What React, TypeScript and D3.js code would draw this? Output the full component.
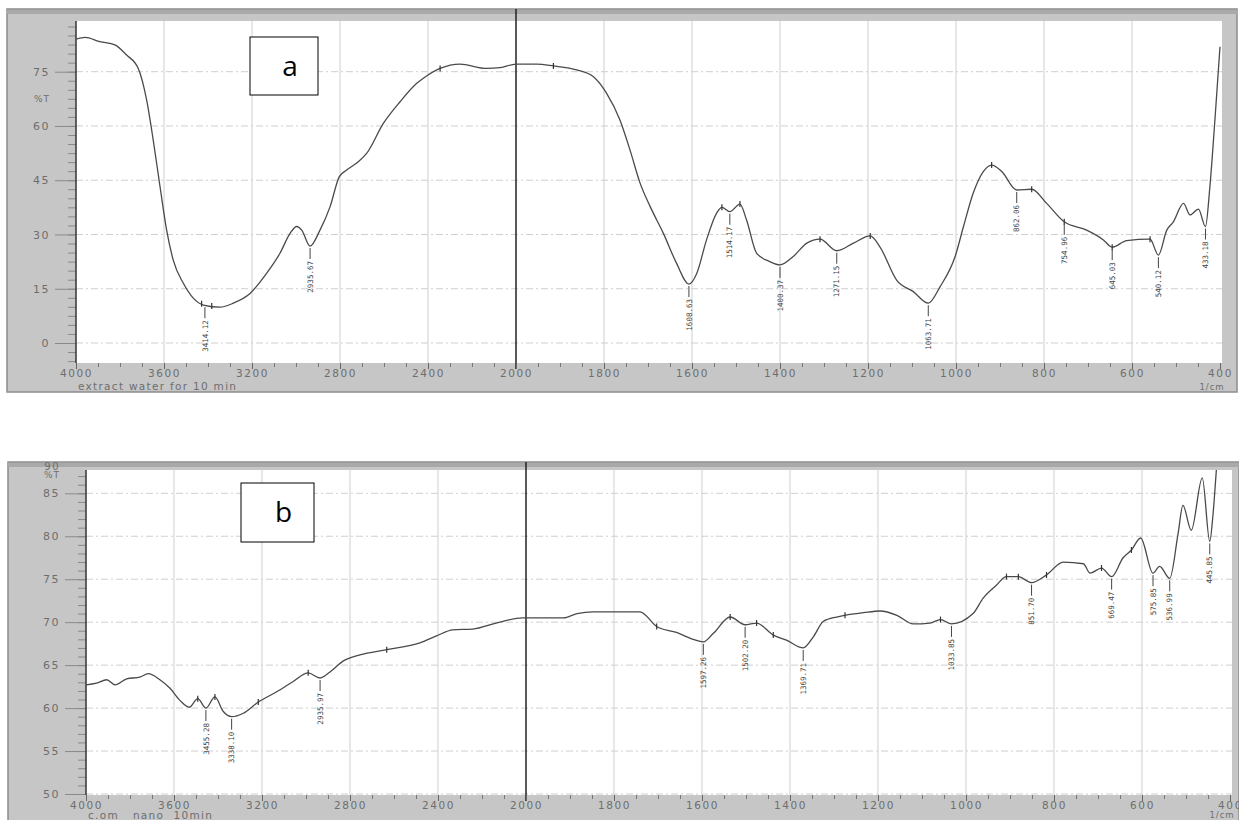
import React, { useEffect, useRef } from 'react';
import * as d3 from 'd3';

// ---- panel a : extract water for 10 min ----
const waveA = [4000, 3959, 3891, 3823, 3770, 3717, 3679, 3649, 3618, 3588, 3558, 3512, 3467, 3421, 3345, 3285, 3209, 3133, 3073, 3027, 2997, 2974, 2936, 2891, 2845, 2803, 2770, 2717, 2679, 2603, 2527, 2451, 2421, 2345, 2255, 2133, 2073, 2000, 1953, 1915, 1862, 1824, 1794, 1764, 1741, 1718, 1695, 1665, 1635, 1607, 1589, 1567, 1544, 1532, 1514, 1491, 1476, 1453, 1423, 1400, 1370, 1339, 1309, 1271, 1233, 1195, 1173, 1135, 1097, 1063, 1036, 1002, 983, 961, 938, 919, 896, 862, 828, 794, 754, 703, 665, 645, 612, 559, 540, 521, 506, 483, 468, 449, 433, 423, 411, 400];
const transA = [84.0, 84.5, 83.3, 82.4, 79.6, 75.9, 67.2, 56.1, 43.2, 31.2, 22.9, 16.5, 12.4, 10.5, 9.9, 11.0, 13.7, 19.3, 24.8, 30.3, 32.2, 31.2, 26.8, 31.2, 37.7, 46.0, 47.8, 50.1, 52.4, 60.7, 66.7, 71.8, 73.2, 75.9, 77.1, 75.9, 76.1, 77.1, 77.1, 76.6, 75.5, 73.6, 69.0, 61.7, 53.4, 44.2, 37.7, 30.3, 22.0, 16.3, 19.3, 28.5, 35.9, 37.5, 36.3, 38.4, 34.0, 24.8, 22.5, 21.6, 23.9, 27.6, 28.7, 25.5, 27.6, 29.6, 26.6, 17.4, 14.2, 11.0, 15.6, 23.9, 32.2, 41.4, 47.4, 49.2, 47.4, 42.3, 42.5, 38.6, 33.5, 31.2, 28.5, 26.5, 28.3, 28.7, 24.3, 31.2, 33.5, 38.6, 35.4, 37.0, 32.2, 43.2, 62.6, 81.9];
const peakWaveA = [3414, 2936, 1607, 1514, 1400, 1271, 1063, 862, 754, 645, 540, 433];
const peakTextA = ['3414.12', '2935.67', '1608.63', '1514.17', '1400.37', '1271.15', '1063.71', '862.06', '754.96', '645.03', '540.12', '433.18'];
const markWaveA = [3429, 3383, 2345, 1915, 1532, 1491, 1309, 1195, 919, 828, 754, 645, 559];
const yTicksA = [0, 15, 30, 45, 60, 75];

// ---- panel b : com nano 10min ----
const waveB = [4000, 3952, 3906, 3868, 3815, 3755, 3717, 3664, 3618, 3573, 3530, 3492, 3455, 3414, 3376, 3338, 3285, 3217, 3133, 3058, 2990, 2936, 2891, 2830, 2755, 2633, 2482, 2407, 2333, 2242, 2136, 2015, 1915, 1884, 1847, 1741, 1703, 1658, 1620, 1597, 1574, 1536, 1502, 1476, 1438, 1408, 1370, 1347, 1324, 1294, 1275, 1233, 1195, 1157, 1120, 1082, 1058, 1033, 984, 961, 931, 908, 881, 851, 817, 779, 733, 718, 692, 669, 643, 624, 603, 575, 560, 537, 518, 507, 488, 463, 446, 439, 431, 425];
const transB = [62.7, 62.9, 63.3, 62.7, 63.4, 63.6, 64.0, 63.3, 62.3, 60.9, 60.1, 61.1, 60.0, 61.3, 59.6, 59.0, 59.4, 60.7, 61.9, 63.1, 64.1, 63.5, 64.2, 65.5, 66.2, 66.8, 67.6, 68.4, 69.1, 69.2, 69.9, 70.5, 70.5, 71.0, 71.2, 71.2, 69.5, 68.8, 68.0, 67.7, 68.7, 70.6, 69.7, 69.9, 68.5, 67.9, 67.0, 68.3, 70.1, 70.6, 70.8, 71.1, 71.3, 70.8, 69.8, 69.9, 70.3, 69.8, 71.0, 72.8, 74.3, 75.3, 75.3, 74.6, 75.5, 77.0, 76.8, 75.7, 76.3, 75.3, 77.5, 78.4, 79.8, 75.7, 76.5, 75.1, 80.3, 83.6, 80.7, 86.8, 79.4, 82.3, 87.7, 92.0];
const peakWaveB = [3455, 3338, 2936, 1597, 1502, 1370, 1033, 851, 669, 575, 537, 446];
const peakTextB = ['3455.28', '3338.10', '2935.97', '1597.26', '1502.20', '1369.71', '1033.85', '851.70', '669.47', '575.85', '536.99', '445.85'];
const markWaveB = [3492, 3414, 3217, 2990, 2633, 1703, 1536, 1476, 1438, 1275, 1058, 908, 881, 817, 692, 624];
const yTicksB = [50, 55, 60, 65, 70, 75, 80, 85];

const xMajor = [4000, 3600, 3200, 2800, 2400, 2000, 1800, 1600, 1400, 1200, 1000, 800, 600, 400];

const layoutA = {
  id: 'a', fx0: 7, fx1: 1237, fy0: 9, fy1: 392, px0: 76, px1: 1222, py0: 21, py1: 363,
  xr: [76, 516, 1220], yd: [0, 75], yr: [343, 71.7], minorStep: 2.5, yMinorRange: [-5, 87.5],
  pctY: 99, subY: 390, sub: 'extract water for 10 min', unitY: 390,
  box: { x: 250, y: 37, w: 68, h: 58 }, extraTop: null as null | number,
};
const layoutB = {
  id: 'b', fx0: 8, fx1: 1239, fy0: 462, fy1: 822, px0: 86, px1: 1232, py0: 470, py1: 795,
  xr: [86, 526, 1230], yd: [50, 85], yr: [794, 493.3], minorStep: 1, yMinorRange: [49, 90],
  pctY: 475, subY: 819, sub: 'c.om   nano  10min', unitY: 818,
  box: { x: 241, y: 483, w: 73, h: 59 }, extraTop: 466 as null | number,
};

const FONT = 'DejaVu Sans';
const INK = '#6e6e6e';

function drawPanel(svg: any, L: any, waves: number[], trans: number[], pW: number[], pT: string[], mW: number[], yTicks: number[]) {
  const g = svg.append('g');
  const x = d3.scaleLinear().domain([4000, 2000, 400]).range(L.xr);
  const y = d3.scaleLinear().domain(L.yd).range(L.yr);
  const interp = (w: number) => {
    const i = waves.findIndex((v) => v <= w);
    if (i <= 0) return trans[Math.max(i, 0)];
    const t = (waves[i - 1] - w) / (waves[i - 1] - waves[i]);
    return trans[i - 1] + t * (trans[i] - trans[i - 1]);
  };

  // frame
  g.append('rect').attr('x', L.fx0).attr('y', L.fy0).attr('width', L.fx1 - L.fx0).attr('height', L.fy1 - L.fy0)
    .attr('fill', '#c6c6c6').attr('stroke', '#8c8c8c').attr('stroke-width', 1.5);
  g.append('rect').attr('x', L.fx0).attr('y', L.fy0 + 1).attr('width', L.fx1 - L.fx0).attr('height', 4).attr('fill', '#a9a9a9');
  g.append('rect').attr('x', L.px0).attr('y', L.py0).attr('width', L.px1 - L.px0).attr('height', L.py1 - L.py0).attr('fill', '#fff');

  // grid
  const grid = g.append('g').attr('stroke', '#cfcfcf').attr('stroke-width', 1);
  grid.selectAll('line.v').data(xMajor.filter((d) => d !== 4000 && d !== 2000 && d !== 400)).enter().append('line')
    .attr('x1', (d: number) => x(d)).attr('x2', (d: number) => x(d)).attr('y1', L.py0).attr('y2', L.py1);
  grid.selectAll('line.h').data(yTicks).enter().append('line')
    .attr('x1', L.px0).attr('x2', L.px1).attr('y1', (d: number) => y(d)).attr('y2', (d: number) => y(d))
    .attr('stroke-dasharray', '7,3,2,3');

  // 2000 divider
  g.append('line').attr('x1', x(2000)).attr('x2', x(2000)).attr('y1', L.fy0).attr('y2', L.py1 + 6)
    .attr('stroke', '#222').attr('stroke-width', 1.5);

  // y axis
  const minor = d3.range(L.yMinorRange[0], L.yMinorRange[1] + 0.01, L.minorStep)
    .filter((v) => y(v) > L.py0 && y(v) < L.py1);
  const ym = g.append('g').attr('transform', `translate(${L.px0},0)`)
    .call(d3.axisLeft(y).tickValues(minor).tickSize(8).tickFormat(() => ''));
  ym.select('.domain').remove();
  ym.selectAll('line').attr('stroke', '#8a8a8a');
  const ya = g.append('g').attr('transform', `translate(${L.px0},0)`)
    .call(d3.axisLeft(y).tickValues(yTicks).tickSize(21).tickPadding(5).tickFormat(d3.format('d')));
  ya.select('.domain').remove();
  ya.selectAll('line').attr('stroke', '#8a8a8a');
  ya.selectAll('text').attr('font-family', FONT).attr('font-size', 11).attr('fill', INK).attr('letter-spacing', 1.5);
  g.append('line').attr('x1', L.px0).attr('x2', L.px0).attr('y1', L.py0).attr('y2', L.py1).attr('stroke', '#333').attr('stroke-width', 1.5);
  g.append('text').attr('x', L.px0 - 26).attr('y', L.pctY).attr('dy', '0.35em').attr('text-anchor', 'end')
    .attr('font-family', FONT).attr('font-size', 9).attr('fill', INK).attr('letter-spacing', 1).text('%T');
  if (L.extraTop !== null) {
    g.append('text').attr('x', L.px0 - 26).attr('y', L.extraTop).attr('dy', '0.35em').attr('text-anchor', 'end')
      .attr('font-family', FONT).attr('font-size', 10).attr('fill', INK).attr('letter-spacing', 1.5).text('90');
  }

  // x axis
  const xMinor = d3.range(4000, 1999, -100).concat(d3.range(1950, 399, -50));
  const xm = g.append('g').attr('transform', `translate(0,${L.py1})`)
    .call(d3.axisBottom(x).tickValues(xMinor).tickSize(4).tickFormat(() => ''));
  xm.select('.domain').remove();
  xm.selectAll('line').attr('stroke', '#777');
  const xa = g.append('g').attr('transform', `translate(0,${L.py1})`)
    .call(d3.axisBottom(x).tickValues(xMajor).tickSize(6).tickPadding(1).tickFormat(d3.format('d')));
  xa.select('.domain').remove();
  xa.selectAll('line').attr('stroke', '#666');
  xa.selectAll('text').attr('font-family', FONT).attr('font-size', 10.5).attr('fill', INK).attr('letter-spacing', 1.6);
  g.append('text').attr('x', L.px0 + 2).attr('y', L.subY).attr('font-family', FONT).attr('font-size', 10.5)
    .attr('fill', INK).attr('letter-spacing', 1.3).style('white-space', 'pre').text(L.sub);
  g.append('text').attr('x', x(400) - 8).attr('y', L.unitY).attr('text-anchor', 'middle').attr('font-family', FONT)
    .attr('font-size', 8.5).attr('fill', INK).attr('letter-spacing', 1).text('1/cm');

  // curve
  const clipId = `clip-${L.id}`;
  g.append('clipPath').attr('id', clipId).append('rect').attr('x', L.px0).attr('y', L.py0)
    .attr('width', L.px1 - L.px0).attr('height', L.py1 - L.py0);
  const pts = waves.map((w, i) => [w, trans[i]] as [number, number]);
  const line = d3.line<[number, number]>().x((d) => x(d[0])).y((d) => y(d[1])).curve(d3.curveMonotoneX);
  g.append('path').attr('d', line(pts)).attr('fill', 'none').attr('stroke', '#4a4a4a').attr('stroke-width', 1.3)
    .attr('clip-path', `url(#${clipId})`);

  // small markers on the curve
  g.selectAll('line.mk').data(mW).enter().append('line')
    .attr('x1', (d: number) => x(d)).attr('x2', (d: number) => x(d))
    .attr('y1', (d: number) => y(interp(d)) - 3).attr('y2', (d: number) => y(interp(d)) + 3)
    .attr('stroke', '#333').attr('stroke-width', 1.2);

  // peak labels
  const pk = g.selectAll('g.pk').data(pW.map((w, i) => ({ w, t: pT[i] }))).enter().append('g');
  pk.append('line').attr('x1', (d: any) => x(d.w)).attr('x2', (d: any) => x(d.w))
    .attr('y1', (d: any) => y(interp(d.w)) + 2).attr('y2', (d: any) => y(interp(d.w)) + 13)
    .attr('stroke', '#444').attr('stroke-width', 1);
  pk.append('text')
    .attr('transform', (d: any) => `translate(${x(d.w)},${y(interp(d.w)) + 15}) rotate(-90)`)
    .attr('text-anchor', 'end').attr('dy', '0.35em').attr('font-family', 'DejaVu Sans Mono')
    .attr('font-size', 7.5).attr('fill', '#444').text((d: any) => d.t);

  // panel tag
  g.append('rect').attr('x', L.box.x).attr('y', L.box.y).attr('width', L.box.w).attr('height', L.box.h)
    .attr('fill', '#fff').attr('stroke', '#000').attr('stroke-width', 1);
  g.append('text').attr('x', L.box.x + L.box.w / 2 + 6).attr('y', L.box.y + L.box.h / 2).attr('dy', '0.35em')
    .attr('text-anchor', 'middle').attr('font-family', 'Open Sans').attr('font-size', 28).attr('fill', '#000').text(L.id);
}

export default function App() {
  const ref = useRef<SVGSVGElement>(null);
  useEffect(() => {
    document.body.style.margin = '0';
    const svg = d3.select(ref.current);
    svg.selectAll('*').remove();
    drawPanel(svg, layoutA, waveA, transA, peakWaveA, peakTextA, markWaveA, yTicksA);
    drawPanel(svg, layoutB, waveB, transB, peakWaveB, peakTextB, markWaveB, yTicksB);
  }, []);
  return <svg ref={ref} width={1239} height={820} style={{ display: 'block', background: '#fff' }} />;
}
